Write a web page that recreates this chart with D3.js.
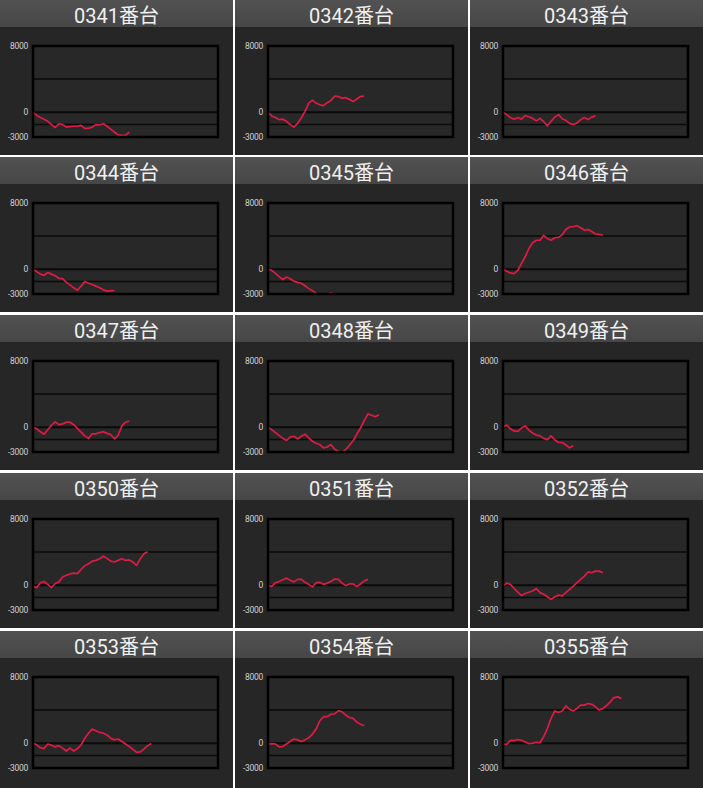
<!DOCTYPE html>
<html>
<head>
<meta charset="utf-8">
<script src="https://cdn.jsdelivr.net/npm/d3@7"></script>
<style>
  body { margin: 0; background: #fff; }
  svg { display: block; }
</style>
</head>
<body>
<div class="svgGrid"><svg></svg></div>
<script>
"use strict";

// machine numbers (panel titles)
const machines = ['0341','0342','0343','0344','0345','0346','0347','0348','0349','0350','0351','0352','0353','0354','0355'];

// y ticks and gridlines
const tickLabels = [8000, 0, -3000];
const gridValues = [8000, 4000, 0, -1500, -3000];

// balance per sample step, one array per machine
const m0341 = [0,-400,-650,-850,-1100,-1500,-1850,-1400,-1500,-1800,-1750,-1700,-1700,-1600,-1950,-1950,-1800,-1500,-1550,-1400,-1700,-2050,-2400,-2750,-2800,-2800,-2400];
const m0342 = [0,-450,-650,-900,-850,-1100,-1500,-1800,-1350,-700,100,1100,1450,1100,900,800,1150,1400,1950,1900,1700,1750,1550,1300,1600,1900,1950];
const m0343 = [0,-300,-650,-850,-650,-850,-400,-550,-750,-1050,-750,-1150,-1650,-1100,-600,-300,-800,-1000,-1350,-1500,-1300,-900,-650,-900,-600,-450];
const m0344 = [0,-300,-600,-750,-400,-600,-800,-1100,-1150,-1600,-1900,-2250,-2550,-2050,-1500,-1700,-1850,-2050,-2250,-2500,-2650,-2600,-2600];
const m0345 = [0,-150,-500,-900,-1250,-950,-1150,-1450,-1600,-1700,-2000,-2350,-2600,-2900,-3200,-3400,-3200,-2850,-3100];
const m0346 = [0,-250,-450,-550,-150,700,1500,2500,3200,3500,3500,4100,3700,3500,3800,3850,4150,4800,5100,5150,5250,5000,4700,4800,4550,4250,4200,4100];
const m0347 = [0,-200,-550,-850,-300,250,650,300,400,600,600,300,-150,-600,-1050,-1350,-800,-800,-650,-550,-750,-900,-1400,-1000,150,600,750];
const m0348 = [0,-300,-650,-1000,-1350,-1600,-1200,-1100,-1400,-1100,-850,-1300,-1700,-1950,-2100,-2500,-2400,-2100,-2650,-2900,-3050,-2700,-2200,-1650,-850,-100,800,1600,1450,1250,1500];
const m0349 = [0,250,-200,-450,-500,-100,150,-350,-700,-950,-1050,-1350,-1500,-1050,-1550,-1850,-1850,-2150,-2500,-2250];
const m0350 = [-100,-300,300,450,100,-300,200,400,1000,1200,1350,1450,1400,1900,2350,2600,2900,3000,3200,3500,3250,2900,2800,3000,3200,3000,3050,2800,2400,3200,3800,4050];
const m0351 = [0,-150,300,450,650,850,600,400,700,700,350,100,-200,300,350,100,250,450,750,700,250,-50,150,150,-150,150,500,700];
const m0352 = [-100,250,100,-400,-850,-1250,-1000,-850,-700,-400,-900,-1100,-1400,-1700,-1400,-1200,-1300,-900,-500,-100,300,700,1100,1600,1500,1700,1700,1500];
const m0353 = [0,-200,-550,-650,-100,-250,-450,-300,-600,-950,-600,-950,-650,-200,600,1200,1700,1500,1300,1200,1000,600,400,500,200,-100,-400,-750,-1100,-1050,-700,-300,-50];
const m0354 = [-100,-50,-100,-450,-400,-100,200,500,400,200,400,650,1100,1700,2700,3200,3200,3500,3550,3900,3800,3400,3100,3000,2550,2300,2100];
const m0355 = [-100,-150,350,300,450,350,150,-50,0,100,50,800,1800,3000,3900,3700,3900,4500,4100,3900,4200,4600,4600,4800,4700,4400,4000,4200,4550,5000,5500,5600,5400];

const series = [m0341,m0342,m0343,m0344,m0345,m0346,m0347,m0348,m0349,m0350,m0351,m0352,m0353,m0354,m0355];

const CHART_WIDTH = 703;
const CHART_HEIGHT = 788;
const STEPS = 50;

const colX = [0, 235, 470];
const rowY = [0, 157, 315, 473, 631];
const PANEL_W = 233;
const PANEL_H = 155;
const TITLE_H = 27;
const PLOT = {left: 33, right: 218, top: 46, bottom: 137};

const svgGrid = d3.select('.svgGrid')
    .select('svg')
    .attr('width', CHART_WIDTH)
    .attr('height', CHART_HEIGHT);

svgGrid.append('rect')
    .attr('width', CHART_WIDTH)
    .attr('height', CHART_HEIGHT)
    .attr('fill', '#ffffff');

const defs = svgGrid.append('defs');
const grad = defs.append('linearGradient')
    .attr('id', 'titleGrad')
    .attr('x1', 0).attr('y1', 0)
    .attr('x2', 0).attr('y2', 1);
grad.append('stop').attr('offset', '0%').attr('stop-color', '#525252');
grad.append('stop').attr('offset', '100%').attr('stop-color', '#464646');

defs.append('clipPath')
    .attr('id', 'plotClip')
    .append('rect')
    .attr('x', PLOT.left)
    .attr('y', PLOT.top)
    .attr('width', PLOT.right - PLOT.left)
    .attr('height', PLOT.bottom - PLOT.top);

const x = d3.scaleLinear().domain([0, STEPS]).range([PLOT.left, PLOT.right]);
const y = d3.scaleLinear().domain([-3000, 8000]).range([PLOT.bottom, PLOT.top]);

const line = d3.line()
    .x((d, i) => x(i))
    .y(d => y(d));

function drawPanel(g, name, values){
    const lastRow = g.datum().row === 4;
    const h = lastRow ? CHART_HEIGHT - rowY[4] : PANEL_H;

    g.append('rect')
        .attr('width', PANEL_W)
        .attr('height', h)
        .attr('fill', '#262626');

    g.append('rect')
        .attr('width', PANEL_W)
        .attr('height', TITLE_H)
        .attr('fill', 'url(#titleGrad)');

    g.append('text')
        .attr('x', PANEL_W / 2)
        .attr('y', 22.5)
        .attr('text-anchor', 'middle')
        .attr('fill', '#f0f0f0')
        .style('font-family', 'Roboto, "Noto Sans CJK JP", sans-serif')
        .style('font-size', '20px')
        .text(name + '番台');

    g.append('rect')
        .attr('x', PLOT.left)
        .attr('y', PLOT.top)
        .attr('width', PLOT.right - PLOT.left)
        .attr('height', PLOT.bottom - PLOT.top)
        .attr('fill', '#282828');

    g.selectAll('line.grid')
        .data(gridValues)
        .join('line')
        .attr('class', 'grid')
        .attr('x1', PLOT.left)
        .attr('x2', PLOT.right)
        .attr('y1', d => y(d))
        .attr('y2', d => y(d))
        .attr('stroke', '#0a0a0a')
        .attr('stroke-width', d => (d === 0 ? 2 : 1.5));

    g.append('path')
        .datum(values)
        .attr('d', line)
        .attr('clip-path', 'url(#plotClip)')
        .attr('fill', 'none')
        .attr('stroke', '#dc1c44')
        .attr('stroke-width', 1.7)
        .attr('stroke-linejoin', 'round');

    g.append('rect')
        .attr('x', PLOT.left)
        .attr('y', PLOT.top)
        .attr('width', PLOT.right - PLOT.left)
        .attr('height', PLOT.bottom - PLOT.top)
        .attr('fill', 'none')
        .attr('stroke', '#000')
        .attr('stroke-width', 2.5);

    g.selectAll('text.tick')
        .data(tickLabels)
        .join('text')
        .attr('class', 'tick')
        .attr('x', PLOT.left - 5)
        .attr('y', d => y(d) + 3)
        .attr('text-anchor', 'end')
        .attr('fill', '#d0d0d0')
        .style('font-family', 'Roboto, sans-serif')
        .style('font-size', '8.5px')
        .style('letter-spacing', '-0.3px')
        .text(d => d);
}

const panels = svgGrid.selectAll('g.panel')
    .data(machines.map((m, i) => ({name: m, values: series[i], row: Math.floor(i / 3), col: i % 3})))
    .join('g')
    .attr('class', 'panel')
    .attr('transform', d => `translate(${colX[d.col]},${rowY[d.row]})`);

panels.each(function(d){
    drawPanel(d3.select(this), d.name, d.values);
});
</script>
</body>
</html>
